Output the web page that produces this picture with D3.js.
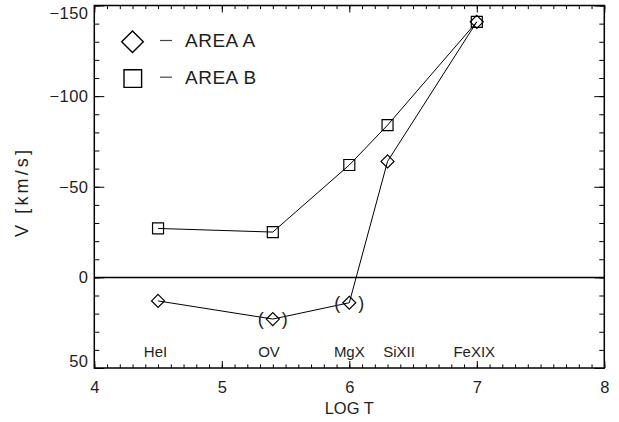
<!DOCTYPE html>
<html>
<head>
<meta charset="utf-8">
<script src="https://cdn.jsdelivr.net/npm/d3@7"></script>
<style>
  html, body { margin: 0; padding: 0; background: #fff; }
  svg { display: block; font-family: "Liberation Sans", Arial, Helvetica, sans-serif; }
  text { fill: #1e1e1e; }
</style>
</head>
<body>
<svg id="chart" width="619" height="422"></svg>
<script>
// Line-of-sight velocities versus formation temperature
const ions = ["HeI", "OV", "MgX", "SiXII", "FeXIX"];
const logT = [4.5, 5.4, 6.0, 6.3, 7.0];
const areaA = [13, 23, 14, -64, -141];
const areaB = [-27, -25, -62, -84, -141];
const uncertainA = [false, true, true, false, false];
const ionLabelT = [4.48, 5.37, 6.0, 6.39, 6.98];
const ionLabelV = 44;
const xTicks = [4, 5, 6, 7, 8];
const yTicks = [-150, -100, -50, 0, 50];
const legendLabels = ["AREA A", "AREA B"];

const svg = d3.select("#chart");
const plotLeft = 94.3, plotRight = 604.3, plotTop = 5.5, plotBottom = 368;

const x = d3.scaleLinear().domain([4, 8]).range([plotLeft, plotRight]);
const y = d3.scaleLinear().domain([-150, 50]).range([plotTop, plotBottom]);

const fmt = d => (d < 0 ? "\u2212" + Math.abs(d) : String(d));

// minor ticks
const xMinor = d3.range(40, 81).map(d => d / 10);
const yMinor = d3.range(-150, 51, 10);

function styleAxis(g) {
  g.select(".domain").remove();
  g.selectAll(".tick line").attr("stroke", "#000").attr("stroke-width", 1);
}

// bottom axis
svg.append("g").attr("transform", `translate(0,${plotBottom})`)
  .call(d3.axisBottom(x).tickValues(xMinor).tickSize(-3.6).tickFormat(""))
  .call(styleAxis);
svg.append("g").attr("transform", `translate(0,${plotBottom})`)
  .call(d3.axisBottom(x).tickValues(xTicks).tickSize(-7).tickPadding(13.5).tickFormat(d3.format("d")))
  .call(styleAxis)
  .call(g => g.selectAll("text").attr("font-size", 16.5).attr("fill", "#1e1e1e")
    .attr("font-family", "Liberation Sans, Arial, sans-serif"));

// top axis
svg.append("g").attr("transform", `translate(0,${plotTop})`)
  .call(d3.axisTop(x).tickValues(xMinor).tickSize(-3.6).tickFormat(""))
  .call(styleAxis);
svg.append("g").attr("transform", `translate(0,${plotTop})`)
  .call(d3.axisTop(x).tickValues(xTicks).tickSize(-7).tickFormat(""))
  .call(styleAxis);

// left axis
svg.append("g").attr("transform", `translate(${plotLeft},0)`)
  .call(d3.axisLeft(y).tickValues(yMinor).tickSize(-5).tickFormat(""))
  .call(styleAxis);
svg.append("g").attr("transform", `translate(${plotLeft},0)`)
  .call(d3.axisLeft(y).tickValues(yTicks).tickSize(-10).tickPadding(6).tickFormat(fmt))
  .call(styleAxis)
  .call(g => g.selectAll("text").attr("font-size", 16.5).attr("fill", "#1e1e1e")
    .attr("font-family", "Liberation Sans, Arial, sans-serif")
    .attr("letter-spacing", 0.4)
    .attr("dy", d => {
      // keep end labels inside the axis span
      const py = y(d);
      const half = 7;
      if (py - half < plotTop) return (plotTop + half - py + 1) + 0.32 * 16.5 + "px";
      if (py + half > plotBottom) return (plotBottom - half - py) + 0.32 * 16.5 + "px";
      return "0.32em";
    }));

// right axis
svg.append("g").attr("transform", `translate(${plotRight},0)`)
  .call(d3.axisRight(y).tickValues(yMinor).tickSize(-5).tickFormat(""))
  .call(styleAxis);
svg.append("g").attr("transform", `translate(${plotRight},0)`)
  .call(d3.axisRight(y).tickValues(yTicks).tickSize(-10).tickFormat(""))
  .call(styleAxis);

// frame
svg.append("rect")
  .attr("x", plotLeft).attr("y", plotTop)
  .attr("width", plotRight - plotLeft).attr("height", plotBottom - plotTop)
  .attr("fill", "none").attr("stroke", "#000").attr("stroke-width", 1.5);

// zero line
svg.append("line")
  .attr("x1", x(4)).attr("x2", x(8)).attr("y1", y(0)).attr("y2", y(0))
  .attr("stroke", "#000").attr("stroke-width", 1.5);

// axis titles
svg.append("text")
  .attr("x", (plotLeft + plotRight) / 2).attr("y", 414)
  .attr("text-anchor", "middle").attr("font-size", 16.5)
  .text("LOG T");
svg.append("text")
  .attr("transform", "translate(27.5,193.5) rotate(-90)")
  .attr("text-anchor", "middle").attr("font-size", 18)
  .attr("textLength", 87).attr("lengthAdjust", "spacing")
  .text("V [km/s]");

// series
const line = d3.line().x(d => x(d[0])).y(d => y(d[1]));
const ptsA = logT.map((t, i) => [t, areaA[i]]);
const ptsB = logT.map((t, i) => [t, areaB[i]]);

svg.append("path").attr("d", line(ptsA))
  .attr("fill", "none").attr("stroke", "#000").attr("stroke-width", 1);
svg.append("path").attr("d", line(ptsB))
  .attr("fill", "none").attr("stroke", "#000").attr("stroke-width", 1);

const diamond = r => `M0,${-r}L${r},0L0,${r}L${-r},0Z`;
const square = s => `M${-s},${-s}H${s}V${s}H${-s}Z`;

svg.append("g").selectAll("path").data(ptsA).join("path")
  .attr("transform", d => `translate(${x(d[0])},${y(d[1])})`)
  .attr("d", diamond(6.5))
  .attr("fill", "none").attr("stroke", "#000").attr("stroke-width", 1.2);

svg.append("g").selectAll("path").data(ptsB).join("path")
  .attr("transform", d => `translate(${x(d[0])},${y(d[1])})`)
  .attr("d", square(5.5))
  .attr("fill", "none").attr("stroke", "#000").attr("stroke-width", 1.2);

// brackets around uncertain AREA A points
const unc = ptsA.filter((d, i) => uncertainA[i]);
const parens = svg.append("g").attr("font-size", 18);
parens.selectAll("text.lp").data(unc).join("text").attr("class", "lp")
  .attr("x", d => x(d[0]) - 12).attr("y", d => y(d[1]) + 6)
  .attr("text-anchor", "middle").text("(");
parens.selectAll("text.rp").data(unc).join("text").attr("class", "rp")
  .attr("x", d => x(d[0]) + 12).attr("y", d => y(d[1]) + 6)
  .attr("text-anchor", "middle").text(")");

// ion labels
svg.append("g").selectAll("text").data(ions).join("text")
  .attr("x", (d, i) => x(ionLabelT[i])).attr("y", y(ionLabelV))
  .attr("text-anchor", "middle").attr("font-size", 15)
  .text(d => d);

// legend
const legend = svg.append("g");
const legendRows = [47.3, 84];
legend.append("path").attr("transform", "translate(132.5,41.8)")
  .attr("d", diamond(10.8)).attr("fill", "none").attr("stroke", "#000").attr("stroke-width", 1.4);
legend.append("path").attr("transform", "translate(132.8,78.6)")
  .attr("d", square(8.8)).attr("fill", "none").attr("stroke", "#000").attr("stroke-width", 1.4);
legendLabels.forEach((lab, i) => {
  legend.append("line")
    .attr("x1", 160).attr("x2", 172)
    .attr("y1", legendRows[i] - 6.8).attr("y2", legendRows[i] - 6.8)
    .attr("stroke", "#444").attr("stroke-width", 1.2);
  legend.append("text")
    .attr("x", 185).attr("y", legendRows[i])
    .attr("font-size", 19).attr("fill", "#333")
    .attr("letter-spacing", 0.5)
    .text(lab);
});
</script>
</body>
</html>
